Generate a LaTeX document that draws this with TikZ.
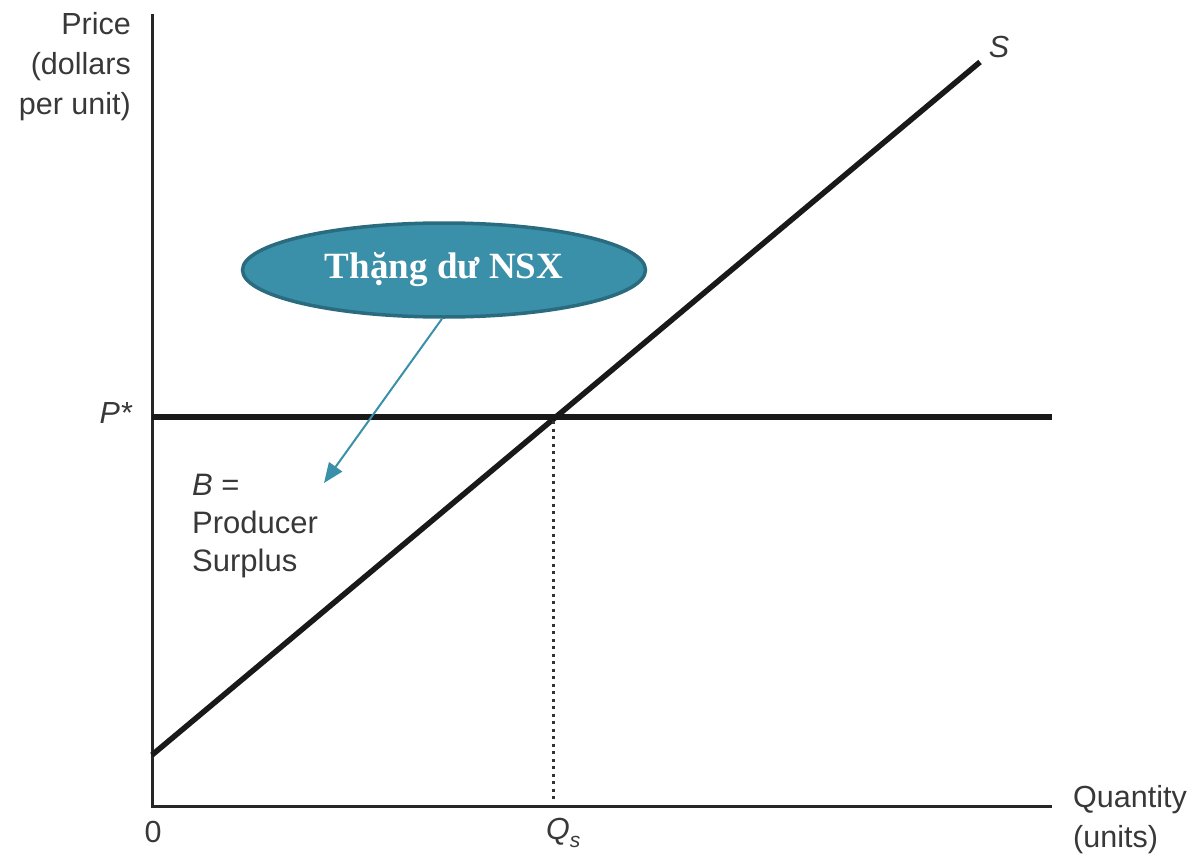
\documentclass[tikz,border=0pt]{standalone}
\usepackage{fontspec}
\setmainfont{Liberation Sans}
\newfontfamily\serifbf{Liberation Serif}
\usetikzlibrary{shapes.geometric,arrows.meta}
\definecolor{teal1}{HTML}{3A90A8}
\definecolor{teal2}{HTML}{2A6B7F}
\tikzset{
  lbl/.style={font=\fontsize{30.5}{40}\selectfont, text=black!78, inner sep=0pt},
  curve/.style={line width=5.5pt, color=black!90},
  axis/.style={line width=3pt, color=black!85},
}
\begin{document}
\begin{tikzpicture}[x=1pt,y=-1pt]
\useasboundingbox (0,0) rectangle (1204,856);
% axes
\coordinate (O) at (152,806);
\coordinate (Ytop) at (152,14);
\coordinate (Xend) at (1052,806);
\draw[axis] (Ytop) -- (O) -- (Xend);
% price line
\coordinate (P0) at (152,417);
\coordinate (P1) at (1052,417);
\draw[curve] (P0) -- (P1);
% supply
\coordinate (S0) at (152,755);
\coordinate (S1) at (980,62);
\draw[curve] (S0) -- (S1);
% dotted
\coordinate (E) at (553,421);
\coordinate (Q) at (553,803);
\draw[line width=3pt, dash pattern=on 3pt off 4.5pt, color=black!80] (E) -- (Q);
% labels
\node[lbl, align=right, anchor=north east] (ylab) at (131,12) {Price\\(dollars\\per unit)};
\node[lbl, anchor=east] (pstar) at (132,413) {\itshape P*};
\node[lbl, anchor=north] (zero) at (153,821) {0};
\node[lbl, anchor=north west] (qs) at (546,818) {\itshape Q\raisebox{-8pt}{\fontsize{21}{21}\selectfont s}};
\node[lbl, align=left, anchor=north west] (xlab) at (1073,785) {Quantity\\(units)};
\node[lbl, anchor=center] (slab) at (999,47) {\itshape S};
\node[lbl, font=\fontsize{31}{38}\selectfont, align=left, anchor=north west] (blab) at (192,474) {\itshape B\upshape\ =\\Producer\\Surplus};
% ellipse callout
\node[ellipse, draw=teal2, line width=3.5pt, fill=teal1, minimum width=403pt, minimum height=94pt, inner sep=0pt,
      font=\serifbf\bfseries\fontsize{37}{37}\selectfont, text=white] (callout) at (444,270) {Thặng dư NSX};
\coordinate (tip) at (324,483);
\draw[teal1, line width=2pt, -{Triangle[length=20pt,width=16pt]}] (callout.south) ++(-2,0) -- (tip);
\end{tikzpicture}
\end{document}
